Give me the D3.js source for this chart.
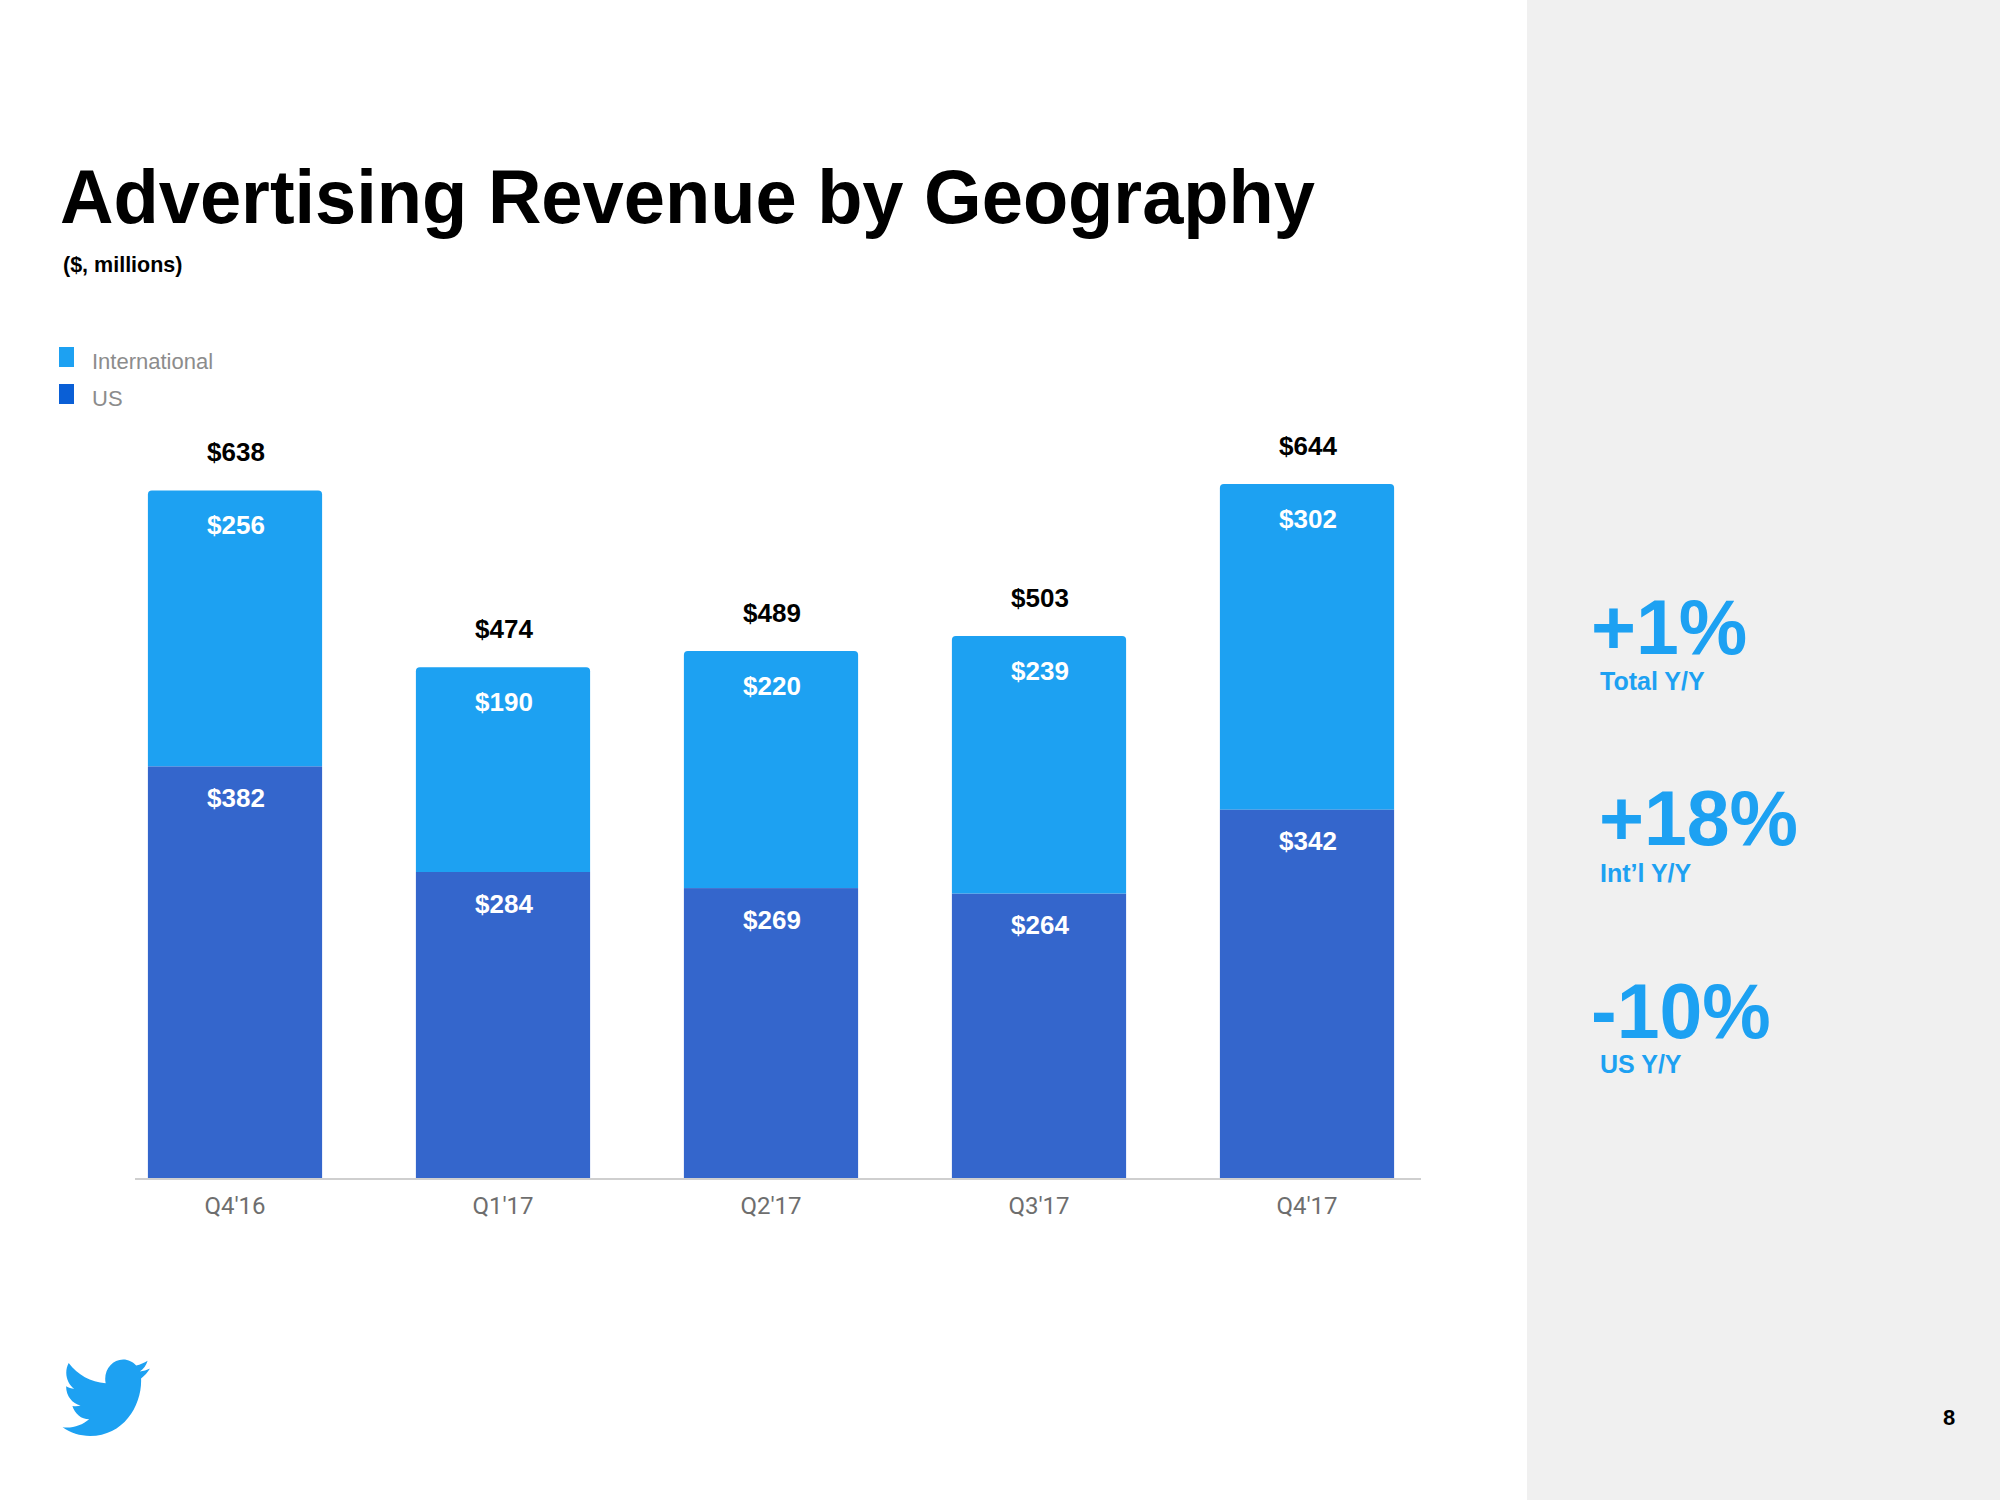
<!DOCTYPE html>
<html><head><meta charset="utf-8">
<script src="https://cdn.jsdelivr.net/npm/d3@7"></script>
<style>html,body{margin:0;padding:0;background:#fff;}svg{display:block;}</style>
</head><body>
<script>
const quarters = ["Q4'16","Q1'17","Q2'17","Q3'17","Q4'17"];
const usValues = [382,284,269,264,342];
const intlValues = [256,190,220,239,302];
const totals = [638,474,489,503,644];
const legendLabels = ["International","US"];
const kpiValues = ["+1%","+18%","-10%"];
const kpiLabels = ["Total Y/Y","Int\u2019l Y/Y","US Y/Y"];

const W=2000,H=1500;
const svg=d3.select("body").append("svg").attr("width",W).attr("height",H);
const HF="'Liberation Sans', Arial, Helvetica, sans-serif";
const BLUE="#1DA1F2", US="#3466CC";

svg.append("rect").attr("x",0).attr("y",0).attr("width",W).attr("height",H).attr("fill","#fff");
svg.append("rect").attr("x",1527).attr("y",0).attr("width",W-1527).attr("height",H).attr("fill","#f0f0f0");

svg.append("text").attr("x",60).attr("y",223).attr("font-family",HF).attr("font-weight","bold")
  .attr("font-size",76).attr("fill","#000").attr("textLength",1255).attr("lengthAdjust","spacingAndGlyphs")
  .text("Advertising Revenue by Geography");
svg.append("text").attr("x",63).attr("y",272).attr("font-family",HF).attr("font-weight","bold")
  .attr("font-size",21.5).attr("fill","#000").text("($, millions)");

// legend
const legColors=[BLUE,"#0A5FD6"];
legendLabels.forEach((l,i)=>{
  svg.append("rect").attr("x",59).attr("y",347+i*37).attr("width",15).attr("height",20).attr("fill",legColors[i]);
  svg.append("text").attr("x",92).attr("y",369+i*37).attr("font-family",HF).attr("font-size",22)
    .attr("fill","#8c8c8c").text(l);
});

const x=d3.scaleBand().domain(quarters).range([101,1441]).paddingInner(0.35).paddingOuter(0.175);
const y=d3.scaleLinear().domain([0,700]).range([1178,1178-754.4]);

const g=svg.append("g");
const r=4;
quarters.forEach((q,i)=>{
  const x0=x(q), bw=x.bandwidth();
  const yUs=y(usValues[i]), yTop=y(totals[i]);
  g.append("rect").attr("x",x0).attr("y",yUs).attr("width",bw).attr("height",y(0)-yUs).attr("fill",US);
  const p=d3.path();
  p.moveTo(x0,yUs); p.lineTo(x0,yTop+r); p.arcTo(x0,yTop,x0+r,yTop,r);
  p.lineTo(x0+bw-r,yTop); p.arcTo(x0+bw,yTop,x0+bw,yTop+r,r); p.lineTo(x0+bw,yUs); p.closePath();
  g.append("path").attr("d",p.toString()).attr("fill",BLUE);
  const cx=x0+bw/2;
  g.append("text").attr("x",cx+1).attr("y",yTop-29).attr("text-anchor","middle").attr("font-family",HF)
    .attr("font-weight","bold").attr("font-size",26).attr("fill","#000").text("$"+totals[i]);
  g.append("text").attr("x",cx+1).attr("y",yTop+44).attr("text-anchor","middle").attr("font-family",HF)
    .attr("font-weight","bold").attr("font-size",26).attr("fill","#fff").text("$"+intlValues[i]);
  g.append("text").attr("x",cx+1).attr("y",yUs+41).attr("text-anchor","middle").attr("font-family",HF)
    .attr("font-weight","bold").attr("font-size",26).attr("fill","#fff").text("$"+usValues[i]);
});

const ax=svg.append("g").attr("transform","translate(0,1178)").call(d3.axisBottom(x).tickSize(0).tickPadding(19));
ax.select(".domain").remove();
ax.selectAll("text").attr("font-family","Roboto, sans-serif").attr("font-size",24).attr("fill","#6e6e6e");
svg.append("line").attr("x1",135).attr("x2",1421).attr("y1",1179).attr("y2",1179).attr("stroke","#cfcfcf").attr("stroke-width",2);

// KPIs
const kx=[1591,1599,1591], kb=[654,845,1038], lb=[690,882,1073];
kpiValues.forEach((v,i)=>{
  svg.append("text").attr("x",kx[i]).attr("y",kb[i]).attr("font-family",HF).attr("font-weight","bold")
    .attr("font-size",77).attr("fill",BLUE).text(v);
  svg.append("text").attr("x",1600).attr("y",lb[i]).attr("font-family",HF).attr("font-weight","bold")
    .attr("font-size",25).attr("fill",BLUE).text(kpiLabels[i]);
});

svg.append("text").attr("x",1943).attr("y",1425).attr("font-family",HF).attr("font-weight","bold")
  .attr("font-size",22).attr("fill","#000").text("8");

// bird
svg.append("path").attr("transform","translate(59,1348) scale(3.85,4.15)").attr("fill",BLUE)
  .attr("d","M23.643 4.937c-.835.37-1.732.62-2.675.733.962-.576 1.7-1.49 2.048-2.578-.9.534-1.897.922-2.958 1.130-.85-.904-2.060-1.470-3.400-1.470-2.572 0-4.658 2.086-4.658 4.660 0 .364.042.718.120 1.060-3.873-.195-7.304-2.050-9.602-4.868-.4.690-.630 1.490-.630 2.342 0 1.616.823 3.043 2.072 3.878-.764-.025-1.482-.234-2.110-.583v.060c0 2.257 1.605 4.140 3.737 4.568-.392.106-.803.162-1.227.162-.300 0-.593-.028-.877-.082.593 1.850 2.313 3.198 4.352 3.234-1.595 1.250-3.604 1.995-5.786 1.995-.376 0-.747-.022-1.112-.065 2.062 1.323 4.510 2.093 7.140 2.093 8.570 0 13.255-7.098 13.255-13.254 0-.2-.005-.402-.014-.602.910-.658 1.700-1.477 2.323-2.410z");
</script>
</body></html>
